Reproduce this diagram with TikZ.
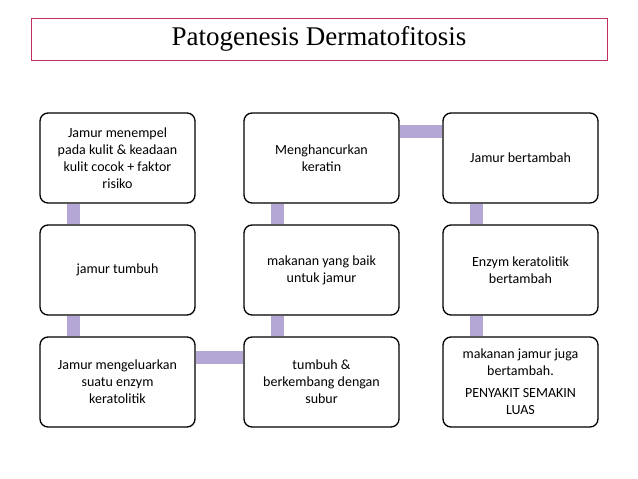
\documentclass[tikz,border=0pt]{standalone}
\usepackage{fontspec}
\setmainfont{Carlito}
\newfontfamily\titlefont{Liberation Serif}
\usetikzlibrary{positioning,backgrounds}
\definecolor{barpurple}{HTML}{B4A7D6}
\definecolor{titlered}{HTML}{C0305A}
\tikzset{
  stage/.style={draw, line width=1.3pt, rounded corners=8pt, fill=white,
    minimum width=155pt, minimum height=90pt, align=center,
    font=\fontsize{14}{17}\selectfont},
  link/.style={barpurple, line width=13pt}
}
\begin{document}
\begin{tikzpicture}[x=1pt, y=-1pt]
				\useasboundingbox (0,0) rectangle (638,479);
				%title
				\node[draw=titlered, line width=0.8pt, minimum width=576pt, minimum height=42pt,
				  font=\titlefont\fontsize{27}{29}\selectfont] (title) at (319,39) {Patogenesis Dermatofitosis};
				
				%first column
				\node[stage] (stick) at (117.5,158) {Jamur menempel\\pada kulit \& keadaan\\kulit cocok + faktor\\risiko};
				\node[stage] (grow) at (117.5,270) {jamur tumbuh};
				\node[stage] (enzyme) at (117.5,382) {Jamur mengeluarkan\\suatu enzym\\keratolitik};
				
				%second column
				\node[stage] (destroy) at (321.5,158) {Menghancurkan\\keratin};
				\node[stage] (food) at (321.5,270) {makanan yang baik\\untuk jamur};
				\node[stage] (thrive) at (321.5,382) {tumbuh \&\\berkembang dengan\\subur};
				
				%third column
				\node[stage] (more) at (520.5,158) {Jamur bertambah};
				\node[stage] (enzmore) at (520.5,270) {Enzym keratolitik\\bertambah};
				\node[stage] (wide) at (520.5,382) {makanan jamur juga\\bertambah.\\[5pt] PENYAKIT SEMAKIN\\LUAS};
				
				\begin{scope}[on background layer]
					\foreach \a/\b in {stick/grow, grow/enzyme, destroy/food, food/thrive, more/enzmore, enzmore/wide}{
						\draw[link] ([xshift=-44pt]\a.south) -- ([xshift=-44pt]\b.north);
					}
					\draw[link] ([yshift=25pt]enzyme.east) -- ([yshift=25pt]thrive.west);
					\draw[link] ([yshift=27pt]destroy.east) -- ([yshift=27pt]more.west);
				\end{scope}
\end{tikzpicture}
\end{document}
